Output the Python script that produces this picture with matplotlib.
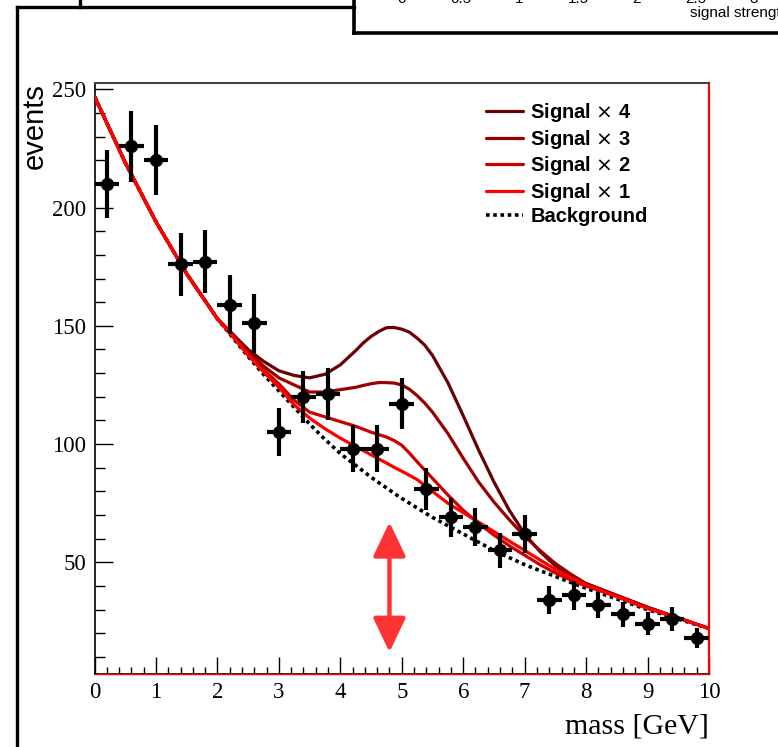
import numpy as np
import matplotlib
matplotlib.use("Agg")
import matplotlib.pyplot as plt
from matplotlib.lines import Line2D
from matplotlib.ticker import MultipleLocator

# ---------------- data ----------------
bin_centers = [0.2, 0.6, 1.0, 1.4, 1.8, 2.2, 2.6, 3.0, 3.4, 3.8, 4.2, 4.6, 5.0,
               5.4, 5.8, 6.2, 6.6, 7.0, 7.4, 7.8, 8.2, 8.6, 9.0, 9.4, 9.8]
counts = [210, 226, 220, 176, 177, 159, 151, 105, 120, 121, 98, 98, 117,
          81, 69, 65, 55, 62, 34, 36, 32, 28, 24, 26, 18]
bin_half_width = 0.2

curve_x = [0, 0.5, 1, 1.5, 2, 2.25, 2.5, 2.75, 3, 3.25, 3.5, 3.75, 4, 4.25,
           4.375, 4.5, 4.625, 4.75, 4.875, 5, 5.125, 5.25, 5.375, 5.5, 5.75,
           6, 6.25, 6.5, 6.75, 7, 7.25, 7.5, 7.75, 8, 8.5, 9, 9.5, 10]
background = [247, 219, 194, 172, 153, 145, 137, 129.5, 122.5, 115.5, 108.5, 102,
              96, 91, 88.5, 86, 83.7, 81.5, 79.2, 77, 75, 73, 71, 69, 65.5,
              62, 58.5, 55, 52, 49, 46.5, 44, 41.5, 39, 34.5, 30, 26, 22]
signal_x1 = [247, 219, 194, 172, 153, 145.5, 137.5, 130.5, 124, 116.5, 111, 106.5,
             102.5, 99, 97.2, 95.5, 93.7, 92, 90.2, 88.5, 86.8, 85, 82.5, 80, 75,
             71, 67, 63, 59, 55, 51, 47, 43.5, 40.5, 35.5, 30.5, 26.5, 22]
signal_x2 = [247, 219, 194, 172, 153, 145.5, 138, 131.5, 125.5, 118.5, 113.5, 111.5,
             109.5, 107.5, 106.3, 105, 104, 103, 101.5, 99.5, 96.2, 92.5, 89, 85.5,
             78.5, 72, 66.5, 61.5, 57, 53, 49, 45.5, 42.5, 40, 35.5, 30.5, 26.5, 22]
signal_x3 = [247, 219, 194, 172, 153, 146, 139, 133, 128, 125, 122, 122, 123,
             124, 124.8, 125.5, 126, 126, 125.8, 125, 123.2, 120.5, 117.3, 113.5,
             104.5, 94, 84, 75.5, 68, 61, 55, 49.5, 45, 41, 36, 31, 26.5, 22]
signal_x4 = [247, 219, 194, 172, 153, 146.5, 140, 135, 131, 129, 128, 129.5,
             133.5, 139.5, 142.8, 145.5, 147.6, 149.2, 149.3, 148.6, 147.3, 144.8,
             141.8, 137.5, 126, 112, 97.5, 84, 72, 62, 54.5, 48.5, 44, 41, 36,
             31, 26.5, 22]

legend_labels = ["Signal $\\times$ 4", "Signal $\\times$ 3", "Signal $\\times$ 2",
                 "Signal $\\times$ 1", "Background"]
curve_colors = ["#6b0000", "#990000", "#cc0000", "#ff0000", "black"]

arrow_x = 4.8
arrow_y = (12, 67)

x_ticks = [0, 1, 2, 3, 4, 5, 6, 7, 8, 9, 10]
y_ticks = [50, 100, 150, 200, 250]
x_range = (0, 10)
y_range = (2.9, 252.8)

other_panel_ticks = ["0", "0.5", "1", "1.5", "2", "2.5", "3"]

# ---------------- figure ----------------
W, H = 778, 747
fig = plt.figure(figsize=(W / 100, H / 100), dpi=100)

def fx(px):
    return px / W

def fy(py):
    return 1 - py / H

ax = fig.add_axes([fx(94.5), fy(673.7), fx(709) - fx(94.5), fy(82.7) - fy(673.7)])

serif = "Liberation Serif"
sans = "Liberation Sans"

cx = np.array(curve_x)
ax.plot(cx, background, color="black", lw=2.6, ls=(0, (1, 1.0)), zorder=3,
        label=legend_labels[4])
for vals, col, lab in zip([signal_x4, signal_x3, signal_x2, signal_x1],
                          curve_colors[:4], legend_labels[:4]):
    ax.plot(cx, vals, color=col, lw=2.3, zorder=4, label=lab,
            solid_joinstyle="round", solid_capstyle="round")

cnt = np.array(counts, dtype=float)
ax.errorbar(bin_centers, cnt, yerr=np.sqrt(cnt), xerr=bin_half_width, fmt="o",
            color="black", ms=8.5, elinewidth=3.0, capsize=0, zorder=6)

ax.annotate("", xy=(arrow_x, arrow_y[1]), xytext=(arrow_x, arrow_y[0]),
            arrowprops=dict(arrowstyle="<|-|>,head_length=2.1,head_width=1.0",
                            color="#ff3333", lw=3.2, shrinkA=0, shrinkB=0),
            zorder=5)

ax.set_xlim(*x_range)
ax.set_ylim(*y_range)
ax.set_xticks(x_ticks)
ax.set_yticks(y_ticks)
ax.xaxis.set_minor_locator(MultipleLocator(0.2))
ax.yaxis.set_minor_locator(MultipleLocator(10))
ax.tick_params(axis="x", which="major", direction="in", length=12, width=1,
               top=False, pad=6)
ax.tick_params(axis="x", which="minor", direction="in", length=5, width=1, top=False)
ax.tick_params(axis="y", which="major", direction="in", length=13, width=1,
               right=False, pad=6)
ax.tick_params(axis="y", which="minor", direction="in", length=7, width=1, right=False)
for lab in ax.get_xticklabels() + ax.get_yticklabels():
    lab.set_fontfamily(serif)
    lab.set_fontsize(16.5)

ax.spines["right"].set_color("red")
ax.spines["right"].set_linewidth(1.6)
ax.spines["top"].set_color("#444444")
ax.spines["top"].set_linewidth(1.5)
ax.spines["left"].set_linewidth(1.2)
ax.spines["bottom"].set_linewidth(1.2)
ax.plot([0, 1], [0, 0], transform=ax.transAxes, color="red", lw=1.0,
        clip_on=False, zorder=7)

fig.text(fx(709), fy(727), "mass [GeV]", family=serif, fontsize=21.5,
         ha="right", va="center")
fig.text(fx(35), fy(83), "events", family=sans, fontsize=21, rotation=90,
         ha="center", va="top")

handles, labels = ax.get_legend_handles_labels()
order = [1, 2, 3, 4, 0]
leg = ax.legend([handles[i] for i in order], [labels[i] for i in order],
                loc="upper left", bbox_to_anchor=((486 - 94.5) / 614.5, (673.7 - 101) / 591),
                frameon=False, prop=dict(family=sans, weight="bold", size=14.5),
                handlelength=1.85, handletextpad=0.35, labelspacing=0.18,
                borderpad=0, borderaxespad=0)

# ---------------- surrounding canvas frame ----------------
def pline(xs, ys, lw):
    fig.add_artist(Line2D([fx(v) for v in xs], [fy(v) for v in ys],
                          transform=fig.transFigure, color="black", lw=lw,
                          solid_capstyle="projecting"))

pline([16.5, 16.5], [7, 760], 2.4)
pline([16.5, 354], [7, 7], 2.4)
pline([80, 80], [-5, 7], 2.4)
pline([354, 354], [-5, 33], 2.6)
pline([354, 790], [33, 33], 2.6)

for i, t in enumerate(other_panel_ticks):
    fig.text(fx(402 + 58.7 * i), fy(3), t, family=sans, fontsize=11,
             ha="center", va="baseline")
fig.text(fx(690), fy(16.5), "signal strength", family=sans, fontsize=11,
         ha="left", va="baseline")

fig.savefig("out.png", dpi=100)
